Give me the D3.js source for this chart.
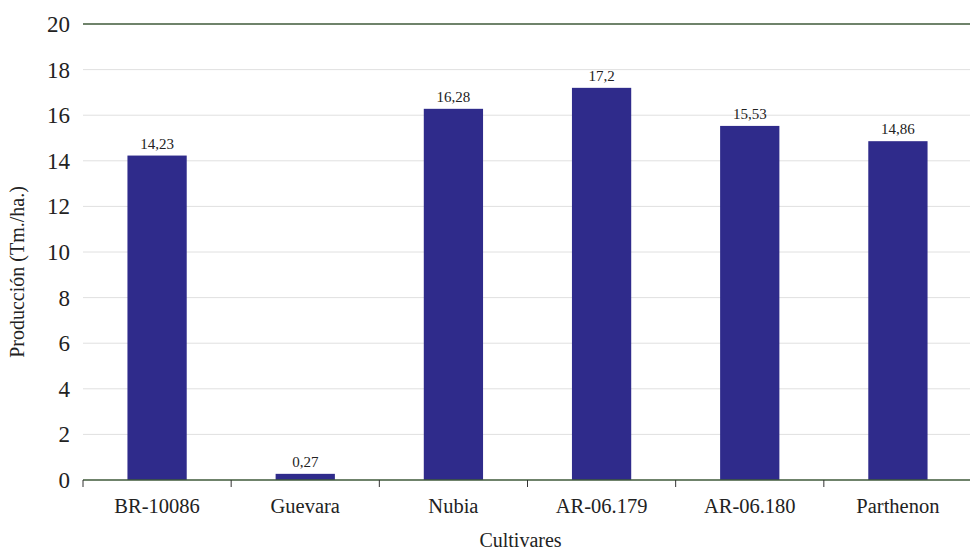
<!DOCTYPE html>
<html>
<head>
<meta charset="utf-8">
<script src="https://cdn.jsdelivr.net/npm/d3@7"></script>
<style>
  html, body { margin: 0; padding: 0; background: #fff; }
  svg { display: block; }
</style>
</head>
<body>
<svg id="chart" width="970" height="551"></svg>
<script>
// Production per cultivar (Tm./ha.)
const cultivares = ["BR-10086", "Guevara", "Nubia", "AR-06.179", "AR-06.180", "Parthenon"];
const produccion = [14.23, 0.27, 16.28, 17.2, 15.53, 14.86];
const etiquetas = ["14,23", "0,27", "16,28", "17,2", "15,53", "14,86"];
const yTicks = [0, 2, 4, 6, 8, 10, 12, 14, 16, 18, 20];

const FONT = "'Liberation Serif', 'Times New Roman', Tinos, 'DejaVu Serif', serif";

const svg = d3.select("#chart")
  .attr("font-family", FONT)
  .style("font-family", FONT);
const margin = { left: 83, top: 24, right: -2, bottom: 71 };
const W = 970, H = 551;

const x = d3.scaleBand()
  .domain(cultivares)
  .range([margin.left, W - margin.right])
  .paddingInner(0.6)
  .paddingOuter(0.3);

const y = d3.scaleLinear()
  .domain([0, 20])
  .range([H - margin.bottom, margin.top]);

// horizontal gridlines
svg.append("g")
  .selectAll("line")
  .data(yTicks.filter(d => d > 0))
  .join("line")
  .attr("x1", margin.left)
  .attr("x2", W)
  .attr("y1", d => y(d))
  .attr("y2", d => y(d))
  .attr("stroke", d => d === 20 ? "#3f5a3a" : "#e0e0e0")
  .attr("stroke-width", d => d === 20 ? 1.3 : 1);

// y tick labels
svg.append("g")
  .selectAll("text")
  .data(yTicks)
  .join("text")
  .attr("x", 70)
  .attr("y", d => y(d))
  .attr("dy", "0.35em")
  .attr("text-anchor", "end")
  .attr("font-size", 23)
  .attr("fill", "#222")
  .text(d => d);

// bars
svg.append("g")
  .selectAll("rect")
  .data(cultivares)
  .join("rect")
  .attr("x", d => x(d))
  .attr("width", x.bandwidth())
  .attr("y", (d, i) => y(produccion[i]))
  .attr("height", (d, i) => y(0) - y(produccion[i]))
  .attr("fill", "#2f2b8b");

// value labels
svg.append("g")
  .selectAll("text")
  .data(cultivares)
  .join("text")
  .attr("x", d => x(d) + x.bandwidth() / 2)
  .attr("y", (d, i) => y(produccion[i]) - 7)
  .attr("text-anchor", "middle")
  .attr("font-size", 15)
  .attr("fill", "#222")
  .text((d, i) => etiquetas[i]);

// x axis line and category separators
const step = x.step();
const x0 = margin.left;
svg.append("line")
  .attr("x1", x0).attr("x2", W)
  .attr("y1", y(0)).attr("y2", y(0))
  .attr("stroke", "#3f5a3a").attr("stroke-width", 1.3);

svg.append("g")
  .selectAll("line")
  .data(d3.range(cultivares.length + 1))
  .join("line")
  .attr("x1", i => x0 + i * step)
  .attr("x2", i => x0 + i * step)
  .attr("y1", y(0))
  .attr("y2", y(0) + 7)
  .attr("stroke", "#333")
  .attr("stroke-width", 1);

// category labels
svg.append("g")
  .selectAll("text")
  .data(cultivares)
  .join("text")
  .attr("x", d => x(d) + x.bandwidth() / 2)
  .attr("y", y(0) + 33)
  .attr("text-anchor", "middle")
  .attr("font-size", 20.5)
  .attr("fill", "#222")
  .text(d => d);

// axis titles
svg.append("text")
  .attr("x", (margin.left + W) / 2 - 6)
  .attr("y", 547)
  .attr("text-anchor", "middle")
  .attr("font-size", 20)
  .attr("fill", "#222")
  .text("Cultivares");

svg.append("text")
  .attr("transform", `translate(24, ${(y(0) + y(20)) / 2 + 20}) rotate(-90)`)
  .attr("text-anchor", "middle")
  .attr("font-size", 20)
  .attr("fill", "#222")
  .text("Producción (Tm./ha.)");
</script>
</body>
</html>
